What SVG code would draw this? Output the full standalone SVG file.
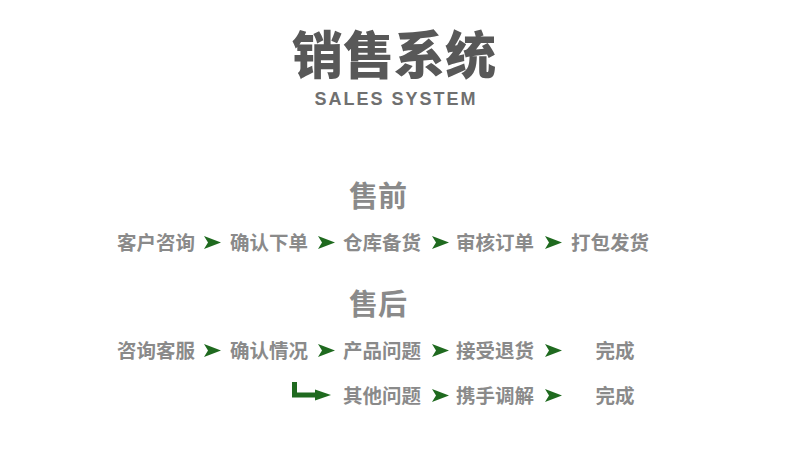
<svg xmlns="http://www.w3.org/2000/svg" width="790" height="464" viewBox="0 0 790 464">
<defs>
<style>
.t{font-family:"Noto Sans CJK SC","Noto Sans",sans-serif;font-weight:bold;fill:#8a8a8a;font-size:19.5px;text-anchor:middle}
.h{font-family:"Noto Sans CJK SC","Noto Sans",sans-serif;font-weight:bold;fill:#8a8a8a;font-size:29px;text-anchor:middle}
.a{fill:#1f6a1f}
</style>
<path id="arr" class="a" d="M0,0 L17,6.5 L0,13 L4,6.5 Z"/>
</defs>
<rect width="790" height="464" fill="#fff"/>
<g id="title">
<text x="394" y="74" style="font-family:'Noto Sans CJK SC',sans-serif;font-weight:900;font-size:51px;fill:#585858;text-anchor:middle">销售系统</text>
<text x="396" y="105" style="font-family:'Liberation Sans',Arial,sans-serif;font-weight:bold;font-size:18px;fill:#707070;text-anchor:middle;letter-spacing:2px">SALES SYSTEM</text>
</g>
<g id="pre-title"><text class="h" x="378" y="207">售前</text></g>
<g id="n1"><text class="t" x="156" y="250">客户咨询</text></g>
<g id="n2"><text class="t" x="269" y="250">确认下单</text></g>
<g id="n3"><text class="t" x="382" y="250">仓库备货</text></g>
<g id="n4"><text class="t" x="495" y="250">审核订单</text></g>
<g id="n5"><text class="t" x="610" y="250">打包发货</text></g>
<g id="post-title"><text class="h" x="378" y="315">售后</text></g>
<g id="m1"><text class="t" x="156" y="358">咨询客服</text></g>
<g id="m2"><text class="t" x="269" y="358">确认情况</text></g>
<g id="m3"><text class="t" x="382" y="358">产品问题</text></g>
<g id="m4"><text class="t" x="495" y="358">接受退货</text></g>
<g id="m5"><text class="t" x="615" y="358">完成</text></g>
<g id="k1"><text class="t" x="382" y="403">其他问题</text></g>
<g id="k2"><text class="t" x="495" y="403">携手调解</text></g>
<g id="k3"><text class="t" x="615" y="403">完成</text></g>
<g id="connectors">
<use href="#arr" x="204" y="236"/>
<use href="#arr" x="318" y="236"/>
<use href="#arr" x="432" y="236"/>
<use href="#arr" x="545" y="236"/>
<use href="#arr" x="204" y="344"/>
<use href="#arr" x="318" y="344"/>
<use href="#arr" x="432" y="344"/>
<use href="#arr" x="545" y="344"/>
<use href="#arr" x="432" y="389"/>
<use href="#arr" x="545" y="389"/>
<path d="M294.5,382 V395 H318" fill="none" stroke="#1f6a1f" stroke-width="5"/>
<path class="a" d="M315,389.5 L331,395 L315,400.5 Z"/>
</g>
</svg>
